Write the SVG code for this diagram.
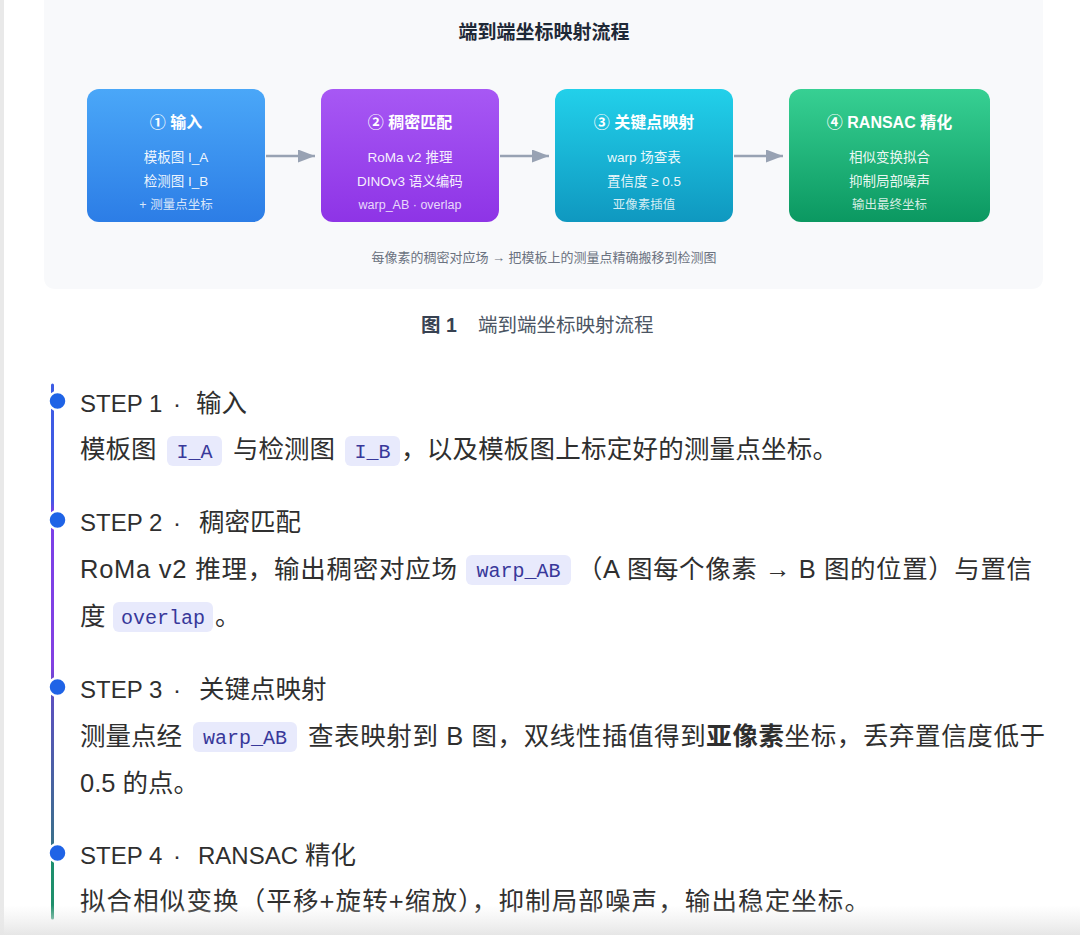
<svg xmlns="http://www.w3.org/2000/svg" width="1080" height="935" viewBox="0 0 1080 935">
<defs>
<style>
.t{font-family:"Liberation Sans","Noto Sans CJK SC",sans-serif}
.bt{font-family:"Liberation Sans","Noto Sans CJK SC",sans-serif;fill:#fff;text-anchor:middle}
.bh{font-size:16px;font-weight:bold}
.b1{font-size:13.5px;fill-opacity:0.93}
.b2{font-size:12.5px;fill-opacity:0.82}
.step{font-family:"Liberation Sans","Noto Sans CJK SC",sans-serif;font-size:25.5px;fill:#2f2f2f}
.stepL{font-size:24px}
.chip{fill:#e8eafc}
.code{font-family:"Liberation Mono","DejaVu Sans Mono",monospace;font-size:20px;fill:#38389a;text-anchor:middle}
.arrow{stroke:#98a2b3;stroke-width:2.5;fill:none}
.dot{fill:#1f63e6;stroke:#fff;stroke-width:2.5}
</style>
<marker id="ah" markerUnits="userSpaceOnUse" markerWidth="17" markerHeight="13" refX="17" refY="6.5" orient="auto">
<path d="M0,0 L17,6.5 L0,13 z" fill="#98a2b3"/>
</marker>
<linearGradient id="g1" x1="0" y1="0" x2="0" y2="1"><stop offset="0" stop-color="#4aa7f8"/><stop offset="1" stop-color="#2c7de6"/></linearGradient>
<linearGradient id="g2" x1="0" y1="0" x2="0" y2="1"><stop offset="0" stop-color="#a758f4"/><stop offset="1" stop-color="#8e34e6"/></linearGradient>
<linearGradient id="g3" x1="0" y1="0" x2="0" y2="1"><stop offset="0" stop-color="#22d0ea"/><stop offset="1" stop-color="#0f98c0"/></linearGradient>
<linearGradient id="g4" x1="0" y1="0" x2="0" y2="1"><stop offset="0" stop-color="#37d093"/><stop offset="1" stop-color="#0b9861"/></linearGradient>
<linearGradient id="tl" gradientUnits="userSpaceOnUse" x1="0" y1="385" x2="0" y2="918">
<stop offset="0" stop-color="#3d5ce4"/><stop offset="0.216" stop-color="#4159e4"/>
<stop offset="0.238" stop-color="#7a40e8"/><stop offset="0.525" stop-color="#8340e2"/>
<stop offset="0.572" stop-color="#5d4fc2"/><stop offset="0.854" stop-color="#3b6f8c"/>
<stop offset="0.895" stop-color="#1d8f6d"/><stop offset="1" stop-color="#1f8f6a"/>
</linearGradient>
<linearGradient id="fade" x1="0" y1="0" x2="0" y2="1"><stop offset="0" stop-color="#ececec" stop-opacity="0"/><stop offset="1" stop-color="#e6e6e6"/></linearGradient>
</defs>
<rect x="0" y="0" width="1080" height="935" fill="#ffffff"/>
<rect x="0" y="0" width="4" height="935" fill="#e9e9e9"/>
<g id="panel">
<path d="M44,0 H1043 V277 Q1043,289 1031,289 H56 Q44,289 44,277 Z" fill="#f8f9fb"/>
<text class="t" x="544" y="39" text-anchor="middle" font-size="19" font-weight="bold" fill="#1f2937">端到端坐标映射流程</text>
<text class="t" x="544" y="262" text-anchor="middle" font-size="13" fill="#6b7280">每像素的稠密对应场 → 把模板上的测量点精确搬移到检测图</text>
</g>
<g id="connectors">
<line class="arrow" x1="266" y1="156" x2="315" y2="156" marker-end="url(#ah)"/>
<line class="arrow" x1="500" y1="156" x2="549" y2="156" marker-end="url(#ah)"/>
<line class="arrow" x1="734" y1="156" x2="783" y2="156" marker-end="url(#ah)"/>
</g>
<g id="node1">
<rect x="87" y="89" width="178" height="133" rx="12" fill="url(#g1)"/>
<text class="bt bh" x="176" y="128">① 输入</text>
<text class="bt b1" x="176" y="162">模板图 I_A</text>
<text class="bt b1" x="176" y="186">检测图 I_B</text>
<text class="bt b2" x="176" y="209">+ 测量点坐标</text>
</g>
<g id="node2">
<rect x="321" y="89" width="178" height="133" rx="12" fill="url(#g2)"/>
<text class="bt bh" x="410" y="128">② 稠密匹配</text>
<text class="bt b1" x="410" y="162">RoMa v2 推理</text>
<text class="bt b1" x="410" y="186">DINOv3 语义编码</text>
<text class="bt b2" x="410" y="209">warp_AB · overlap</text>
</g>
<g id="node3">
<rect x="555" y="89" width="178" height="133" rx="12" fill="url(#g3)"/>
<text class="bt bh" x="644" y="128">③ 关键点映射</text>
<text class="bt b1" x="644" y="162">warp 场查表</text>
<text class="bt b1" x="644" y="186">置信度 ≥ 0.5</text>
<text class="bt b2" x="644" y="209">亚像素插值</text>
</g>
<g id="node4">
<rect x="789" y="89" width="201" height="133" rx="12" fill="url(#g4)"/>
<text class="bt bh" x="889.5" y="128">④ RANSAC 精化</text>
<text class="bt b1" x="889.5" y="162">相似变换拟合</text>
<text class="bt b1" x="889.5" y="186">抑制局部噪声</text>
<text class="bt b2" x="889.5" y="209">输出最终坐标</text>
</g>
<g id="caption">
<text class="t" x="421" y="332" font-size="19.5" fill="#374151"><tspan font-weight="bold">图 1</tspan><tspan x="478" fill="#4b5563">端到端坐标映射流程</tspan></text>
</g>
<g id="timeline">
<line x1="52.5" y1="385" x2="52.5" y2="918" stroke="url(#tl)" stroke-width="3" stroke-linecap="round"/>
<circle class="dot" cx="57.5" cy="401" r="9"/>
<circle class="dot" cx="57.5" cy="520" r="9"/>
<circle class="dot" cx="57.5" cy="687" r="9"/>
<circle class="dot" cx="57.5" cy="853" r="9"/>
</g>
<g id="step1">
<text class="step" x="80" y="412"><tspan class="stepL">STEP 1</tspan><tspan x="173" class="stepL">·</tspan><tspan x="196">输入</tspan></text>
<text class="step" x="80" y="458">模板图</text>
<rect class="chip" x="167" y="436" width="55" height="30" rx="6"/>
<text class="code" x="194.5" y="458">I_A</text>
<text class="step" x="233" y="458">与检测图</text>
<rect class="chip" x="345" y="436" width="55" height="30" rx="6"/>
<text class="code" x="372.5" y="458">I_B</text>
<text class="step" x="401" y="458" textLength="437" lengthAdjust="spacing">，以及模板图上标定好的测量点坐标。</text>
</g>
<g id="step2">
<text class="step" x="80" y="531"><tspan class="stepL">STEP 2</tspan><tspan x="173" class="stepL">·</tspan><tspan x="199">稠密匹配</tspan></text>
<text class="step" x="80" y="578" textLength="377" lengthAdjust="spacing">RoMa v2 推理，输出稠密对应场</text>
<rect class="chip" x="466" y="555" width="105" height="30" rx="6"/>
<text class="code" x="518.5" y="577">warp_AB</text>
<text class="step" x="577" y="578" textLength="455" lengthAdjust="spacing">（A 图每个像素 → B 图的位置）与置信</text>
<text class="step" x="80" y="625">度</text>
<rect class="chip" x="113" y="602" width="100" height="30" rx="6"/>
<text class="code" x="163" y="624">overlap</text>
<text class="step" x="215" y="625">。</text>
</g>
<g id="step3">
<text class="step" x="80" y="698"><tspan class="stepL">STEP 3</tspan><tspan x="173" class="stepL">·</tspan><tspan x="199">关键点映射</tspan></text>
<text class="step" x="80" y="745">测量点经</text>
<rect class="chip" x="193" y="722" width="104" height="30" rx="6"/>
<text class="code" x="245" y="744">warp_AB</text>
<text class="step" x="308" y="745" textLength="737" lengthAdjust="spacing">查表映射到 B 图，双线性插值得到<tspan font-weight="bold">亚像素</tspan>坐标，丢弃置信度低于</text>
<text class="step" x="80" y="792">0.5 的点。</text>
</g>
<g id="step4">
<text class="step" x="80" y="864"><tspan class="stepL">STEP 4</tspan><tspan x="173" class="stepL">·</tspan><tspan x="198" class="stepL">RANSAC</tspan><tspan> 精化</tspan></text>
<text class="step" x="80" y="910" textLength="790" lengthAdjust="spacing">拟合相似变换（平移+旋转+缩放），抑制局部噪声，输出稳定坐标。</text>
</g>
<rect x="0" y="905" width="1080" height="30" fill="url(#fade)"/>
</svg>
